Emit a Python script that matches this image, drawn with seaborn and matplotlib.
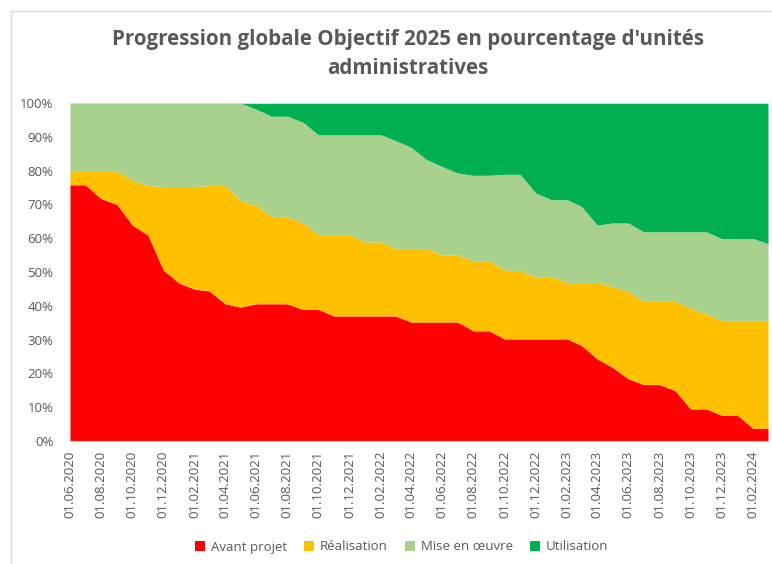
import pandas as pd
import seaborn as sns
import matplotlib.pyplot as plt
import matplotlib.dates as mdates
from matplotlib.patches import Rectangle
from matplotlib.ticker import PercentFormatter

sns.set_style('white')
plt.rcParams['font.family'] = ['Open Sans', 'DejaVu Sans']

# monthly points, 01.06.2020 .. 01.03.2024 (shares in %)
dates = pd.date_range('2020-06-01', '2024-03-01', freq='MS')

avant_projet = [75.8, 75.8, 71.7, 70.0, 63.9, 60.9, 50.6, 46.7, 44.9, 44.4,
                40.6, 39.6, 40.6, 40.6, 40.6, 38.9, 38.9, 37.0, 37.0, 37.0,
                37.0, 37.0, 35.2, 35.2, 35.2, 35.2, 32.6, 32.6, 30.2, 30.2,
                30.2, 30.2, 30.2, 28.3, 24.3, 21.8, 18.4, 16.7, 16.7, 14.9,
                9.5, 9.5, 7.6, 7.6, 3.7, 3.7]
realisation = [4.0, 4.0, 8.1, 9.8, 13.2, 14.7, 24.7, 28.6, 30.4, 31.2,
               35.0, 31.6, 29.1, 25.9, 25.7, 25.6, 22.0, 23.9, 23.9, 21.9,
               21.9, 20.0, 21.8, 21.8, 19.8, 19.8, 20.7, 20.7, 20.4, 20.2,
               18.4, 18.4, 16.7, 18.6, 22.6, 23.9, 25.8, 24.6, 24.6, 26.4,
               29.8, 28.0, 28.1, 28.1, 32.0, 32.0]
mise_en_oeuvre = [20.2, 20.2, 20.2, 20.2, 22.9, 24.4, 24.7, 24.7, 24.7, 24.4,
                  24.4, 28.8, 28.5, 29.6, 29.8, 29.8, 29.7, 29.7, 29.7, 31.7,
                  31.7, 31.9, 29.9, 26.3, 26.2, 24.3, 25.3, 25.3, 28.3, 28.5,
                  24.8, 22.8, 24.5, 22.5, 17.0, 18.8, 20.3, 20.6, 20.6, 20.6,
                  22.6, 24.4, 24.2, 24.2, 24.2, 22.7]
utilisation = [0, 0, 0, 0, 0, 0, 0, 0, 0, 0,
               0, 0, 1.8, 3.9, 3.9, 5.7, 9.4, 9.4, 9.4, 9.4,
               9.4, 11.1, 13.1, 16.7, 18.8, 20.7, 21.4, 21.4, 21.1, 21.1,
               26.6, 28.6, 28.6, 30.6, 36.1, 35.5, 35.5, 38.1, 38.1, 38.1,
               38.1, 38.1, 40.1, 40.1, 40.1, 41.6]

labels = ['Avant projet', 'Réalisation', 'Mise en œuvre', 'Utilisation']
colors = ['#FF0000', '#FFC000', '#A9D18E', '#00B050']

df = pd.DataFrame({'date': dates, labels[0]: avant_projet, labels[1]: realisation,
                   labels[2]: mise_en_oeuvre, labels[3]: utilisation})

fig = plt.figure(figsize=(7.72, 5.64), dpi=100)
ax = fig.add_axes([70 / 772, 1 - 441 / 564, 698 / 772, 338 / 564])

ax.stackplot(df['date'], *[df[c] for c in labels], labels=labels,
             colors=colors, linewidth=0)

grey = '#595959'
ax.set_xlim(dates[0], dates[-1])
ax.set_ylim(0, 100)
ax.set_yticks(range(0, 101, 10))
ax.yaxis.set_major_formatter(PercentFormatter(decimals=0))
ax.xaxis.set_major_locator(mdates.MonthLocator(bymonth=[2, 4, 6, 8, 10, 12]))
ax.xaxis.set_major_formatter(mdates.DateFormatter('%d.%m.%Y'))
ax.tick_params(axis='x', rotation=90, labelsize=9.5, colors=grey,
               length=4, width=0.8, color='#D9D9D9', pad=3)
ax.tick_params(axis='y', labelsize=9.5, colors=grey, length=0, pad=12)

sns.despine(ax=ax, left=True, right=True, top=False)
ax.spines['top'].set_color('#D9D9D9')
ax.spines['bottom'].set_color('#D9D9D9')

fig.text(0.528, 1 - 40 / 564, "Progression globale Objectif 2025 en pourcentage d'unités",
         ha='center', va='center', fontsize=14.8, fontweight='bold', color=grey)
fig.text(0.528, 1 - 68 / 564, "administratives",
         ha='center', va='center', fontsize=14.8, fontweight='bold', color=grey)

fig.legend(*ax.get_legend_handles_labels(), loc='center', ncol=4,
           bbox_to_anchor=(0.52, 1 - 547 / 564), frameon=False,
           fontsize=9.5, labelcolor=grey, handlelength=0.8, handleheight=0.8,
           handletextpad=0.4, columnspacing=1.3)

fig.patches.append(Rectangle((11 / 772, -0.1), 1.0, 1 - 11 / 564 + 0.1,
                             transform=fig.transFigure, fill=False,
                             edgecolor='#D9D9D9', linewidth=1))

fig.savefig('out.png', dpi=100)
